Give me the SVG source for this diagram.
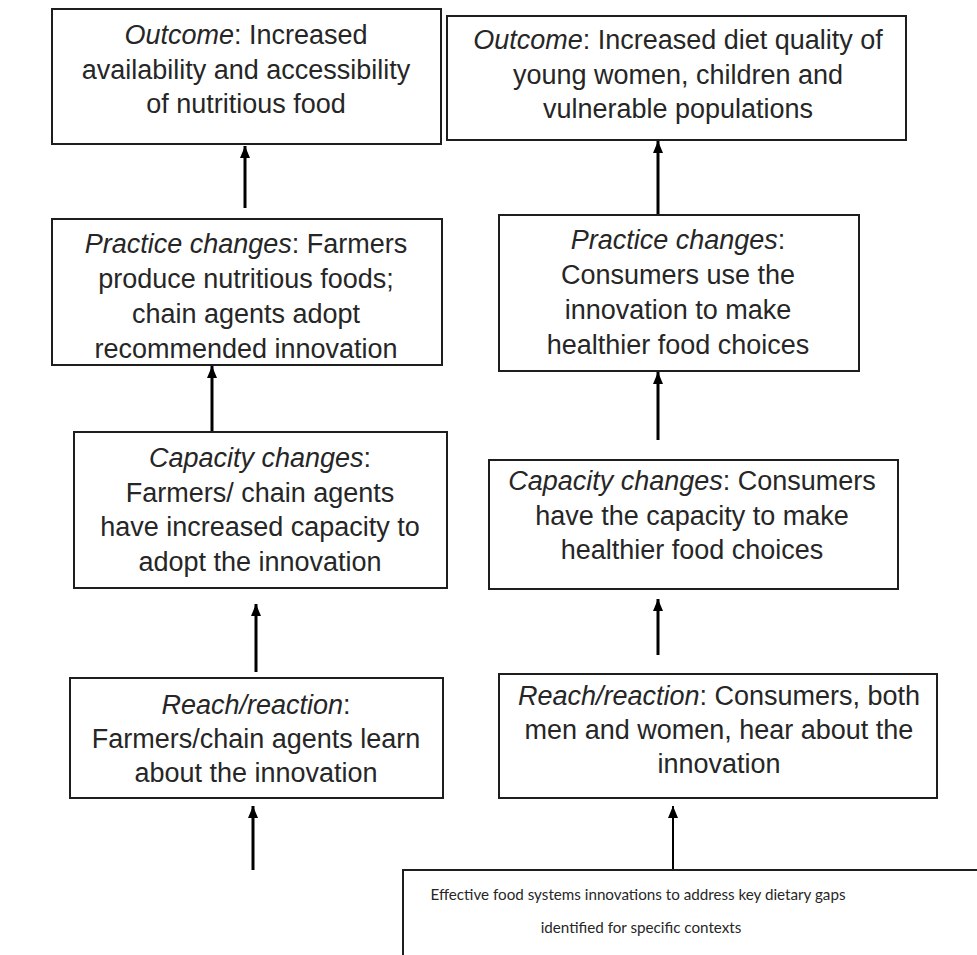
<svg xmlns="http://www.w3.org/2000/svg" width="977" height="955" viewBox="0 0 977 955">
<defs>
<style>
.box{fill:#fff;stroke:#1e1e1e;stroke-width:2}
.t{font-family:"Liberation Sans",Arial,sans-serif;font-size:27px;fill:#262626;text-anchor:middle}
.i{font-style:italic}
.b{font-family:Lato,"Open Sans",sans-serif;font-size:15.2px;fill:#262626;text-anchor:middle}
.c{stroke:#000;stroke-width:3;fill:none;marker-end:url(#ah)}
.c2{stroke:#000;stroke-width:2;fill:none;marker-end:url(#ah)}
</style>
<marker id="ah" viewBox="0 0 12 10" refX="12" refY="5" markerWidth="12" markerHeight="10" markerUnits="userSpaceOnUse" orient="auto">
<path d="M0,0 L12,5 L0,10 z" fill="#000"/>
</marker>
</defs>
<rect width="977" height="955" fill="#fff"/>

<g id="connectors">
<line class="c" x1="245" y1="208" x2="245" y2="146"/>
<line class="c" x1="212" y1="432" x2="212" y2="366"/>
<line class="c" x1="256" y1="672" x2="256" y2="604"/>
<line class="c" x1="253" y1="870" x2="253" y2="806"/>
<line class="c" x1="658" y1="214" x2="658" y2="141"/>
<line class="c" x1="658" y1="440" x2="658" y2="372"/>
<line class="c" x1="658" y1="655" x2="658" y2="599"/>
<line class="c2" x1="673" y1="870" x2="673" y2="806"/>
</g>

<g id="outcome-left">
<rect class="box" x="52" y="9" width="389" height="135"/>
<text class="t" x="246" y="44"><tspan class="i">Outcome</tspan>: Increased</text>
<text class="t" x="246" y="78.5">availability and accessibility</text>
<text class="t" x="246" y="113">of nutritious food</text>
</g>

<g id="outcome-right">
<rect class="box" x="447" y="16" width="459" height="124"/>
<text class="t" x="678" y="49"><tspan class="i">Outcome</tspan>: Increased diet quality of</text>
<text class="t" x="678" y="84">young women, children and</text>
<text class="t" x="678" y="118">vulnerable populations</text>
</g>

<g id="practice-left">
<rect class="box" x="52" y="219" width="390" height="146"/>
<text class="t" x="246" y="253"><tspan class="i">Practice changes</tspan>: Farmers</text>
<text class="t" x="246" y="288">produce nutritious foods;</text>
<text class="t" x="246" y="323">chain agents adopt</text>
<text class="t" x="246" y="358">recommended innovation</text>
</g>

<g id="practice-right">
<rect class="box" x="499" y="215" width="360" height="156"/>
<text class="t" x="678" y="249"><tspan class="i">Practice changes</tspan>:</text>
<text class="t" x="678" y="284">Consumers use the</text>
<text class="t" x="678" y="319">innovation to make</text>
<text class="t" x="678" y="354">healthier food choices</text>
</g>

<g id="capacity-left">
<rect class="box" x="74" y="432" width="373" height="156"/>
<text class="t" x="260" y="467"><tspan class="i">Capacity changes</tspan>:</text>
<text class="t" x="260" y="502">Farmers/ chain agents</text>
<text class="t" x="260" y="536">have increased capacity to</text>
<text class="t" x="260" y="571">adopt the innovation</text>
</g>

<g id="capacity-right">
<rect class="box" x="489" y="460" width="409" height="129"/>
<text class="t" x="692" y="490"><tspan class="i">Capacity changes</tspan>: Consumers</text>
<text class="t" x="692" y="525">have the capacity to make</text>
<text class="t" x="692" y="559">healthier food choices</text>
</g>

<g id="reach-left">
<rect class="box" x="70" y="678" width="373" height="120"/>
<text class="t" x="256" y="714"><tspan class="i">Reach/reaction</tspan>:</text>
<text class="t" x="256" y="748">Farmers/chain agents learn</text>
<text class="t" x="256" y="782">about the innovation</text>
</g>

<g id="reach-right">
<rect class="box" x="499" y="674" width="438" height="124"/>
<text class="t" x="719" y="705"><tspan class="i">Reach/reaction</tspan>: Consumers, both</text>
<text class="t" x="719" y="739">men and women, hear about the</text>
<text class="t" x="719" y="773">innovation</text>
</g>

<g id="innovations">
<rect class="box" x="403" y="870" width="620" height="120"/>
<text class="b" x="638" y="900">Effective food systems innovations to address key dietary gaps</text>
<text class="b" x="641" y="933">identified for specific contexts</text>
</g>
</svg>
